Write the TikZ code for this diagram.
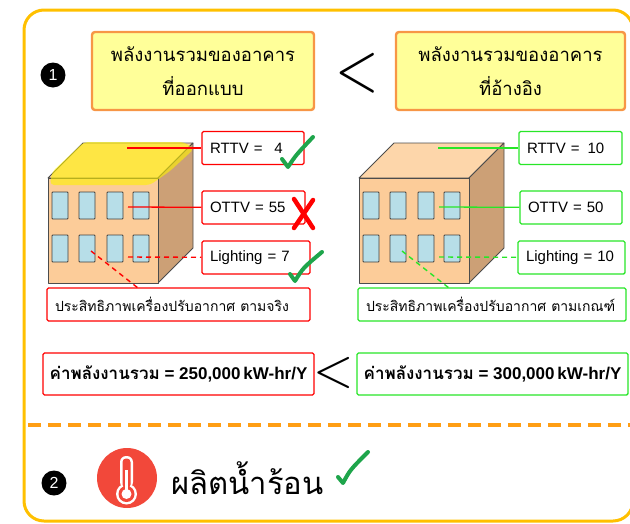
\documentclass[tikz,border=0pt]{standalone}
\usepackage{graphicx}
\usepackage{fontspec}
\setmainfont{Liberation Sans}
\newfontfamily\thai[Script=Thai]{Loma}

\definecolor{panelgold}{RGB}{255,192,0}
\definecolor{divorange}{RGB}{255,158,20}
\definecolor{headfill}{RGB}{255,255,153}
\definecolor{headline}{RGB}{247,150,70}
\definecolor{wallfront}{RGB}{252,204,153}
\definecolor{wallside}{RGB}{204,160,118}
\definecolor{wallroof}{RGB}{253,214,170}
\definecolor{glass}{RGB}{183,222,232}
\definecolor{tagred}{RGB}{255,0,0}
\definecolor{taggreen}{RGB}{40,230,40}
\definecolor{okgreen}{RGB}{30,165,75}
\definecolor{hotred}{RGB}{242,72,58}

\begin{document}
\begin{tikzpicture}[
  x=1pt,y=-1pt,
  panel/.style={draw=panelgold,line width=3pt,rounded corners=20pt},
  divider/.style={draw=divorange,line width=4pt,dash pattern=on 13pt off 7pt},
  num/.style={circle,fill=black,text=white,inner sep=0pt,minimum size=25pt,
    font=\fontsize{16}{16}\selectfont},
  head/.style={draw=headline,fill=headfill,line width=2.4pt,rounded corners=3pt,
    align=center,inner sep=0pt,minimum height=78pt,
    font=\thai\fontsize{18.5}{34}\selectfont},
  less/.style={inner sep=0pt},
  wall/.style={draw=black!70,line width=0.8pt,line join=round},
  pane/.style={draw=black!75,fill=glass,line width=0.9pt,rounded corners=0.8pt},
  roofmark/.style={fill=yellow,opacity=0.6,rounded corners=4pt},
  tagbox/.style={draw=#1,fill=white,line width=1.4pt,rounded corners=1.5pt,
    minimum height=33pt,inner xsep=8pt,inner ysep=0pt,align=left,
    font=\fontsize{15}{18}\selectfont},
  lead/.style={draw=#1,line width=1.3pt},
  leaddash/.style={draw=#1,line width=1.4pt,dash pattern=on 5pt off 4pt},
  sumbox/.style={draw=#1,fill=white,line width=1.4pt,rounded corners=1.5pt,
    minimum width=271pt,minimum height=42pt,inner sep=0pt,
    font=\bfseries\fontsize{17}{20}\selectfont},
  tick/.style={draw=okgreen,line width=4pt,line cap=round,line join=round},
  cross/.style={draw=tagred,line width=4.5pt,line cap=round}]

  \useasboundingbox (0,0) rectangle (630,523);

  % frame and divider
  \draw[panel] (24,10) rectangle (633,521);
  \coordinate (divL) at (28,425);
  \coordinate (divR) at (632,425);
  \draw[divider] (divL) -- (divR);

  % part 1: comparison headers
  \node[num] (one) at (53,75) {1};
  \node[head,minimum width=222pt] (design) at (203,71)
    {พลังงานรวมของอาคาร\\ที่ออกแบบ};
  \node[head,minimum width=229pt] (refer) at (510.5,71)
    {พลังงานรวมของอาคาร\\ที่อ้างอิง};
  \node[less] (cmptop) at (357.5,73) {\scalebox{5.6}[6.9]{$<$}};

  % the two buildings
  \foreach \dx/\b in {0/L,311/R}{
    \begin{scope}[xshift=\dx]
      \filldraw[wall,fill=wallroof] (48,178) -- (83,143) -- (193,143) -- (158,178) -- cycle;
      \filldraw[wall,fill=wallside] (158,178) -- (193,143) -- (193,248) -- (158,283) -- cycle;
      \filldraw[wall,fill=wallfront] (48,178) rectangle (158,283);
      \foreach \wx in {52,79,107,133}
        \foreach \wy in {192,235}
          \draw[pane] (\wx,\wy) rectangle ++(16,27);
      \coordinate (roof\b) at (127,148);
      \coordinate (pane\b) at (128,207);
      \coordinate (lamp\b) at (128,257);
      \coordinate (vent\b) at (91,251);
      \coordinate (venttip\b) at (138,288);
    \end{scope}
  }
  \fill[roofmark] (84,142) -- (184,142) -- (194,149) -- (170,171) -- (150,185)
    -- (50,185) -- (52,172) -- cycle;

  % design values
  \node[tagbox=tagred,text width=86pt] (rttvL) at (253,148) {RTTV = \hspace{0.45em}4};
  \node[tagbox=tagred,text width=87pt] (ottvL) at (253.5,207.5) {OTTV = 55};
  \node[tagbox=tagred,text width=92pt] (lightL) at (256,257.5) {Lighting = 7};
  \node[tagbox=tagred,text width=247pt] (coolL) at (178.5,304.5)
    {\thai\fontsize{14}{18}\selectfont\mbox{ประสิทธิภาพเครื่องปรับอากาศ ตามจริง}};
  \draw[lead=tagred] (roofL) -- (rttvL);
  \draw[lead=tagred] (paneL) -- (ottvL);
  \draw[leaddash=tagred] (lampL) -- (lightL);
  \draw[leaddash=tagred] (ventL) -- (venttipL);

  % reference values
  \node[tagbox=taggreen,text width=87pt] (rttvR) at (570.5,148) {RTTV = \hspace{0.2em}10};
  \node[tagbox=taggreen,text width=86pt] (ottvR) at (571,207.5) {OTTV = 50};
  \node[tagbox=taggreen,text width=91pt] (lightR) at (571.5,257.5) {Lighting = 10};
  \node[tagbox=taggreen,text width=252pt] (coolR) at (492,304.5)
    {\thai\fontsize{14}{18}\selectfont\mbox{ประสิทธิภาพเครื่องปรับอากาศ ตามเกณฑ์}};
  \draw[lead=taggreen] (roofR) -- (rttvR);
  \draw[lead=taggreen] (paneR) -- (ottvR);
  \draw[leaddash=taggreen] (lampR) -- (lightR);
  \draw[leaddash=taggreen] (ventR) -- (venttipR);

  % pass / fail marks
  \draw[tick] (282,159) -- (288,167) .. controls (296,155) .. (313,137);
  \draw[cross] (294,199) -- (313,228);
  \draw[cross] (313,200) -- (294,228);
  \draw[tick] (290,274) -- (295,281) .. controls (303,268) .. (322,252);

  % totals
  \node[sumbox=tagred] (sumL) at (178.5,374) {{\thai ค่าพลังงานรวม} = 250,000\,kW-hr/Y};
  \node[sumbox=taggreen] (sumR) at (492.5,374) {{\thai ค่าพลังงานรวม} = 300,000\,kW-hr/Y};
  \node[less] (cmpsum) at (334,372.5) {\scalebox{5.2}[5.4]{$<$}};

  % part 2: hot water
  \node[num] (two) at (54,483) {2};
  \node[circle,fill=hotred,minimum size=60pt,inner sep=0pt] (heat) at (127,478) {};
  \begin{scope}[shift={(heat.center)}]
    \fill[white,rounded corners=6pt] (-7,10) rectangle (6,-22);
    \fill[white] (-0.5,16) circle (10.5);
    \fill[hotred,rounded corners=3.5pt] (-4.5,10) rectangle (3.5,-19.5);
    \fill[hotred] (-0.5,16) circle (8);
    \fill[white] (-1.7,-8) rectangle (0.7,14);
    \fill[white] (-0.5,16) circle (5);
  \end{scope}
  \node[anchor=west,inner sep=0pt,font=\thai\fontsize{31}{38}\selectfont] (hotwater)
    at (171,478) {ผลิตน้ำร้อน};
  \draw[tick] (338,477) -- (343,483) .. controls (350,470) .. (368,452);
\end{tikzpicture}
\end{document}
